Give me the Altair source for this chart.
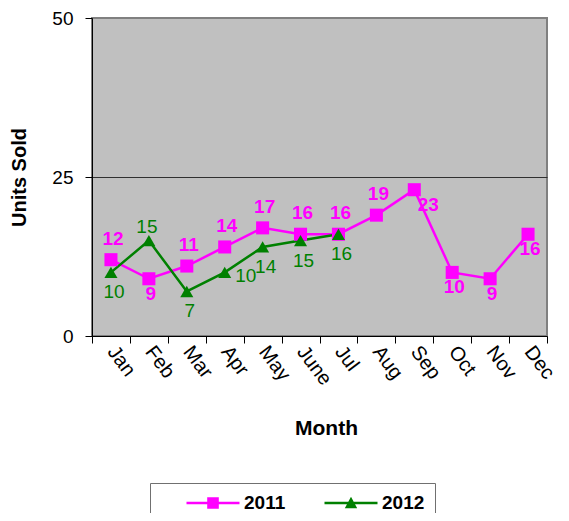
import json
import altair as alt
import pandas as pd

months = ["Jan", "Feb", "Mar", "Apr", "May", "June", "Jul", "Aug", "Sep", "Oct", "Nov", "Dec"]
years = ["2011", "2012"]
units_2011 = [12, 9, 11, 14, 17, 16, 16, 19, 23, 10, 9, 16]
units_2012 = [10, 15, 7, 10, 14, 15, 16]
# label placement relative to each point
place_2011 = ["above", "below", "above", "above", "above", "above", "above", "above",
              "belowright", "below", "below", "below"]
place_2012 = ["below", "above", "below", "right", "below", "below", "below"]

rows = []
for m, v, p in zip(months, units_2011, place_2011):
    rows.append({"Month": m, "Units": v, "Year": "2011", "place": p})
for m, v, p in zip(months, units_2012, place_2012):
    rows.append({"Month": m, "Units": v, "Year": "2012", "place": p})
df = pd.DataFrame(rows)

FONT = "Liberation Sans"
PINK = "#FF00FF"
GREEN = "#008000"
W, H = 455, 318

months_js = json.dumps(months)


def color_scale():
    return alt.Scale(domain=years, range=[PINK, GREEN])


x_enc = alt.X(
    "mx:Q",
    scale=alt.Scale(domain=[0, 12], nice=False, zero=False),
    axis=alt.Axis(
        values=list(range(13)),
        labelExpr=f"datum.value < 12 ? {months_js}[datum.value] : ''",
        labelAngle=53, labelAlign="left", labelBaseline="middle",
        labelOffset=W / 24, labelPadding=5, labelFlush=False, labelOverlap=False,
        labelFontSize=20, labelColor="black", labelFont=FONT,
        tickSize=7, tickColor="black", domainColor="black", grid=False,
        title="Month", titleFontSize=21, titleFontWeight="bold", titleFont=FONT,
        titleColor="black", titleX=234, titleY=92, titleBaseline="middle",
    ),
)
y_enc = alt.Y(
    "Units:Q",
    scale=alt.Scale(domain=[0, 50], nice=False),
    axis=alt.Axis(
        values=[0, 25, 50], tickSize=7, tickColor="black", domainColor="black",
        labelPadding=12, labelFontSize=19, labelColor="black", labelFont=FONT,
        grid=True, gridColor=alt.condition("datum.value == 25", alt.value("#303030"), alt.value("#808080")),
        gridWidth=1,
        title="Units Sold", titleFontSize=20, titleFontWeight="bold", titleFont=FONT,
        titleColor="black", titleX=-73, titleY=H / 2, titleBaseline="middle",
    ),
)

base = alt.Chart(df).transform_calculate(
    mx=f"indexof({months_js}, datum.Month) + 0.5"
)

lines = base.mark_line(strokeWidth=2.5).encode(
    x=x_enc, y=y_enc,
    color=alt.Color("Year:N", scale=color_scale(), legend=None),
    detail="Year:N",
)

points = base.mark_point(filled=True, size=170, opacity=1).encode(
    x=x_enc, y=y_enc,
    color=alt.Color("Year:N", scale=color_scale(), legend=None),
    shape=alt.Shape("Year:N", scale=alt.Scale(domain=years, range=["square", "triangle-up"]), legend=None),
)


def labels(year, place, dx, dy, color, weight):
    return base.transform_filter(
        f"datum.Year == '{year}' && datum.place == '{place}'"
    ).mark_text(dx=dx, dy=dy, fontSize=19, fontWeight=weight, font=FONT, color=color).encode(
        x=x_enc, y=y_enc, text="Units:Q"
    )


text_layers = [
    labels("2011", "above", 2, -21, PINK, "bold"),
    labels("2011", "below", 2, 15, PINK, "bold"),
    labels("2011", "belowright", 14, 15, PINK, "bold"),
    labels("2012", "above", -2, -14, GREEN, "normal"),
    labels("2012", "below", 3, 20, GREEN, "normal"),
    labels("2012", "right", 21, 4, GREEN, "normal"),
]

line_square = "M-2.65,-0.13H2.65V0.13H-2.65Z M-0.58,-0.58H0.58V0.58H-0.58Z"
line_triangle = "M-2.65,-0.13H2.65V0.13H-2.65Z M0,-0.62L0.62,0.52H-0.62Z"

legend_kw = dict(
    orient="none", legendX=58, legendY=465, direction="horizontal", title=None,
    symbolSize=400, symbolStrokeWidth=0, symbolOffset=43, labelOffset=21,
    labelFontSize=19, labelFontWeight="bold", labelFont=FONT, labelColor="black",
    strokeColor="#707070", fillColor="white", padding=10, columnPadding=12,
)

legend_layer = base.transform_filter("false").mark_point(filled=True, opacity=1).encode(
    x=x_enc, y=y_enc,
    color=alt.Color("Year:N", scale=color_scale(), legend=alt.Legend(**legend_kw)),
    shape=alt.Shape("Year:N", scale=alt.Scale(domain=years, range=[line_square, line_triangle]),
                    legend=alt.Legend(**legend_kw)),
)

chart = alt.layer(lines, points, *text_layers, legend_layer).resolve_scale(
    shape="independent", color="independent"
).properties(
    width=W, height=H,
    padding={"left": 84, "top": 10, "right": 14, "bottom": 177},
    autosize=alt.AutoSizeParams(type="none"),
    background="white",
).configure_view(
    fill="#C0C0C0", stroke="#808080", strokeWidth=2
)

chart.save("out.html", embed_options={"renderer": "svg", "actions": False})
